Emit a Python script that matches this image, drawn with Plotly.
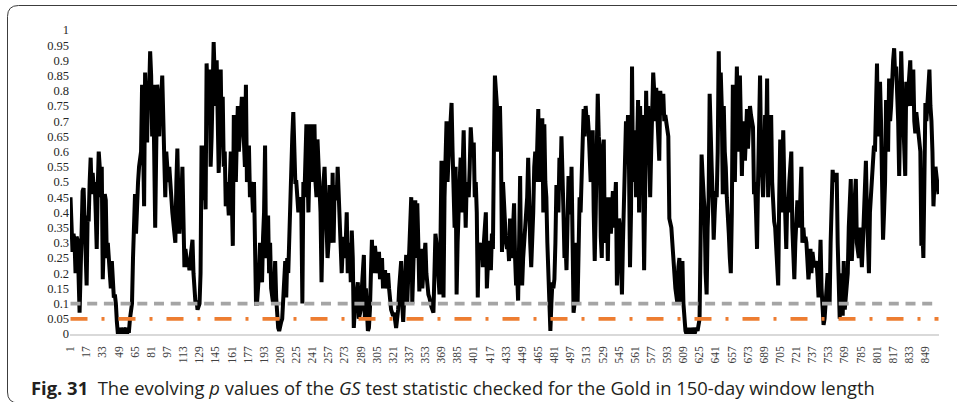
import plotly.graph_objects as go

# ---------------- data ----------------
p_values = [
    0.45,0.35,0.27,0.33,0.30,0.20,0.32,0.31,0.18,0.07,0.20,0.45,0.47,0.48,0.35,0.25,
    0.16,0.39,0.37,0.50,0.58,0.46,0.53,0.48,0.50,0.40,0.28,0.48,0.60,0.55,0.45,0.55,
    0.18,0.30,0.46,0.44,0.25,0.30,0.24,0.16,0.15,0.24,0.14,0.12,0.13,0.10,0.04,0.00,
    0.01,0.00,0.02,0.01,0.00,0.02,0.01,0.02,0.00,0.01,0.01,0.05,0.08,0.10,0.25,0.34,
    0.46,0.33,0.45,0.50,0.55,0.58,0.60,0.82,0.60,0.42,0.86,0.70,0.63,0.82,0.80,0.93,
    0.85,0.65,0.82,0.60,0.35,0.60,0.82,0.78,0.65,0.80,0.78,0.85,0.62,0.58,0.45,0.60,
    0.55,0.50,0.55,0.47,0.45,0.40,0.37,0.34,0.30,0.50,0.61,0.45,0.33,0.40,0.45,0.55,
    0.40,0.22,0.28,0.26,0.22,0.24,0.21,0.25,0.28,0.31,0.20,0.14,0.10,0.11,0.08,0.09,
    0.10,0.20,0.62,0.44,0.62,0.55,0.41,0.89,0.75,0.70,0.87,0.55,0.65,0.80,0.96,0.85,
    0.75,0.90,0.70,0.53,0.65,0.87,0.63,0.78,0.55,0.60,0.42,0.50,0.45,0.39,0.50,0.60,
    0.45,0.29,0.72,0.60,0.50,0.65,0.75,0.60,0.65,0.70,0.78,0.72,0.60,0.55,0.82,0.50,
    0.55,0.62,0.45,0.50,0.48,0.40,0.50,0.33,0.10,0.10,0.14,0.20,0.30,0.22,0.17,0.32,
    0.40,0.62,0.25,0.30,0.39,0.20,0.30,0.15,0.12,0.10,0.14,0.24,0.12,0.05,0.02,0.01,
    0.03,0.04,0.05,0.10,0.18,0.24,0.12,0.25,0.20,0.35,0.45,0.55,0.65,0.73,0.60,0.50,
    0.50,0.45,0.40,0.45,0.42,0.40,0.10,0.50,0.45,0.60,0.69,0.55,0.40,0.55,0.69,0.60,
    0.50,0.60,0.69,0.50,0.45,0.64,0.55,0.50,0.40,0.17,0.40,0.50,0.55,0.45,0.40,0.25,
    0.30,0.49,0.35,0.30,0.53,0.30,0.49,0.45,0.44,0.55,0.45,0.34,0.25,0.20,0.28,0.32,
    0.25,0.30,0.40,0.20,0.25,0.30,0.17,0.34,0.25,0.02,0.08,0.12,0.15,0.17,0.05,0.06,
    0.08,0.15,0.20,0.26,0.05,0.15,0.08,0.01,0.02,0.08,0.20,0.31,0.20,0.24,0.29,0.25,
    0.20,0.22,0.27,0.18,0.20,0.25,0.15,0.18,0.21,0.15,0.18,0.20,0.15,0.10,0.08,0.07,
    0.06,0.07,0.05,0.02,0.05,0.08,0.15,0.20,0.24,0.10,0.04,0.12,0.20,0.26,0.10,0.18,
    0.25,0.35,0.45,0.10,0.20,0.30,0.44,0.25,0.43,0.30,0.14,0.20,0.28,0.15,0.20,0.25,
    0.30,0.20,0.15,0.13,0.12,0.10,0.09,0.08,0.07,0.20,0.33,0.30,0.22,0.15,0.13,0.30,
    0.57,0.30,0.12,0.45,0.68,0.70,0.50,0.60,0.65,0.70,0.76,0.60,0.50,0.35,0.55,0.13,
    0.30,0.44,0.50,0.58,0.40,0.55,0.67,0.50,0.35,0.50,0.48,0.45,0.55,0.68,0.62,0.60,
    0.63,0.45,0.50,0.40,0.12,0.30,0.28,0.25,0.30,0.22,0.30,0.39,0.40,0.15,0.25,0.30,
    0.30,0.21,0.33,0.28,0.60,0.85,0.80,0.75,0.60,0.70,0.75,0.60,0.27,0.50,0.40,0.35,
    0.30,0.28,0.30,0.24,0.38,0.30,0.25,0.35,0.43,0.25,0.16,0.20,0.11,0.30,0.52,0.20,
    0.16,0.25,0.30,0.35,0.40,0.45,0.58,0.35,0.30,0.22,0.30,0.40,0.55,0.60,0.50,0.60,
    0.74,0.50,0.60,0.65,0.71,0.40,0.69,0.50,0.45,0.30,0.20,0.05,0.01,0.10,0.17,0.15,
    0.18,0.30,0.49,0.45,0.40,0.58,0.50,0.65,0.55,0.40,0.25,0.30,0.21,0.35,0.52,0.40,
    0.40,0.55,0.30,0.07,0.10,0.20,0.30,0.10,0.25,0.45,0.40,0.50,0.60,0.74,0.65,0.75,
    0.70,0.72,0.67,0.60,0.50,0.55,0.67,0.40,0.24,0.40,0.55,0.79,0.65,0.62,0.32,0.25,
    0.50,0.64,0.30,0.40,0.45,0.24,0.45,0.40,0.33,0.40,0.47,0.35,0.45,0.50,0.16,0.25,
    0.38,0.35,0.25,0.13,0.30,0.45,0.55,0.70,0.60,0.72,0.55,0.22,0.40,0.88,0.50,0.60,
    0.67,0.45,0.60,0.77,0.40,0.75,0.60,0.72,0.50,0.21,0.45,0.80,0.60,0.75,0.60,0.45,
    0.60,0.75,0.86,0.80,0.70,0.81,0.70,0.60,0.57,0.80,0.75,0.72,0.79,0.70,0.72,0.69,
    0.67,0.65,0.38,0.36,0.35,0.30,0.22,0.20,0.15,0.12,0.10,0.22,0.25,0.10,0.15,0.24,
    0.10,0.02,0.01,0.00,0.01,0.02,0.00,0.01,0.00,0.02,0.01,0.00,0.01,0.02,0.01,0.03,
    0.05,0.30,0.59,0.52,0.45,0.40,0.20,0.13,0.35,0.45,0.79,0.60,0.55,0.45,0.31,0.40,
    0.47,0.45,0.60,0.93,0.68,0.86,0.75,0.46,0.75,0.60,0.55,0.45,0.40,0.33,0.25,0.20,
    0.40,0.82,0.60,0.50,0.70,0.88,0.70,0.60,0.85,0.55,0.52,0.70,0.65,0.57,0.65,0.74,
    0.61,0.70,0.75,0.72,0.70,0.68,0.46,0.50,0.40,0.28,0.50,0.65,0.85,0.60,0.50,0.45,
    0.55,0.72,0.60,0.84,0.45,0.70,0.60,0.72,0.50,0.39,0.37,0.35,0.30,0.25,0.16,0.45,
    0.64,0.40,0.55,0.67,0.50,0.30,0.28,0.45,0.40,0.50,0.55,0.60,0.35,0.20,0.18,0.30,
    0.35,0.44,0.40,0.35,0.45,0.55,0.30,0.35,0.30,0.32,0.30,0.25,0.18,0.22,0.28,0.20,
    0.27,0.24,0.22,0.23,0.24,0.19,0.12,0.20,0.31,0.15,0.10,0.03,0.05,0.10,0.16,0.20,
    0.15,0.10,0.30,0.45,0.54,0.50,0.52,0.50,0.53,0.30,0.15,0.05,0.20,0.10,0.06,0.24,
    0.08,0.12,0.18,0.20,0.35,0.45,0.51,0.24,0.35,0.40,0.45,0.51,0.30,0.28,0.25,0.35,
    0.30,0.22,0.30,0.40,0.50,0.57,0.40,0.30,0.20,0.40,0.45,0.50,0.55,0.62,0.60,0.75,
    0.89,0.65,0.75,0.83,0.70,0.46,0.31,0.40,0.50,0.77,0.65,0.60,0.84,0.70,0.75,0.85,
    0.90,0.94,0.85,0.88,0.80,0.70,0.52,0.75,0.93,0.80,0.70,0.60,0.52,0.83,0.75,0.80,
    0.85,0.90,0.75,0.80,0.87,0.70,0.66,0.73,0.70,0.68,0.65,0.60,0.29,0.35,0.25,0.45,
    0.76,0.70,0.75,0.80,0.87,0.75,0.70,0.60,0.42,0.50,0.55,0.52,0.50,0.46,
]
observations = list(range(1, len(p_values) + 1))

threshold_10 = 0.10
threshold_05 = 0.05

x_tick_values = list(range(1, 850, 16))
x_tick_labels = [str(v) for v in x_tick_values]
y_tick_values = [round(i * 0.05, 2) for i in range(21)]
y_tick_labels = ["0", "0.05", "0.1", "0.15", "0.2", "0.25", "0.3", "0.35", "0.4", "0.45",
                 "0.5", "0.55", "0.6", "0.65", "0.7", "0.75", "0.8", "0.85", "0.9", "0.95", "1"]

caption = ("<b>Fig. 31</b>\u00a0\u00a0The evolving <i>p</i> values of the <i>GS</i> test "
           "statistic checked for the Gold in 150-day window length")

# ---------------- layout geometry (pixels) ----------------
W, H = 957, 402
L, R, T, B = 70, 18, 30, 68
PW, PH = W - L - R, H - T - B


def px(x):
    return (x - L) / PW


def py(y):
    return (H - B - y) / PH


fig = go.Figure()
fig.add_trace(go.Scatter(x=observations, y=p_values, mode="lines",
                         line=dict(color="#000000", width=4), hoverinfo="skip"))
fig.add_trace(go.Scatter(x=observations, y=[threshold_10] * len(observations), mode="lines",
                         line=dict(color="#A5A5A5", width=3.8, dash="10px,6.7px"),
                         hoverinfo="skip"))
fig.add_trace(go.Scatter(x=observations, y=[threshold_05] * len(observations), mode="lines",
                         line=dict(color="#ED7D31", width=3.8, dash="17px,14px,3px,14px"),
                         hoverinfo="skip"))

serif = "Liberation Serif, Times New Roman, serif"

fig.update_layout(
    width=W, height=H,
    margin=dict(l=L, r=R, t=T, b=B),
    paper_bgcolor="white", plot_bgcolor="white",
    showlegend=False,
    xaxis=dict(range=[0.5, len(observations) + 0.5], tickmode="array",
               tickvals=x_tick_values, ticktext=x_tick_labels, tickangle=-90,
               tickfont=dict(family=serif, size=11.5, color="#404040"),
               showgrid=False, zeroline=False, showline=True,
               linecolor="#D9D9D9", linewidth=1.5, ticks="", ticklabelstandoff=6),
    yaxis=dict(range=[0, 1], tickmode="array", tickvals=y_tick_values,
               ticktext=y_tick_labels,
               tickfont=dict(family=serif, size=12.5, color="#262626"),
               showgrid=False, zeroline=False, showline=False, ticks=""),
)

# figure frame with rounded left corners
x0, yt, yb, rr = 7.5, 5.5, 403.0, 11
path = (f"M {px(W + 5)},{py(yt)} L {px(x0 + rr)},{py(yt)} "
        f"Q {px(x0)},{py(yt)} {px(x0)},{py(yt + rr)} "
        f"L {px(x0)},{py(yb - rr)} Q {px(x0)},{py(yb)} {px(x0 + rr)},{py(yb)} "
        f"L {px(W + 5)},{py(yb)}")
fig.add_shape(type="path", xref="paper", yref="paper", path=path,
              line=dict(color="#3C3C3C", width=1))

fig.add_annotation(xref="paper", yref="paper", x=px(29), y=py(387),
                   xanchor="left", yanchor="middle", showarrow=False,
                   text=caption, font=dict(family="Open Sans, sans-serif", size=18.4,
                                           color="#231F20"))

fig.write_html("out.html", config={"displayModeBar": False},
               post_script="document.body.style.margin='0';document.body.style.overflow='hidden';")
